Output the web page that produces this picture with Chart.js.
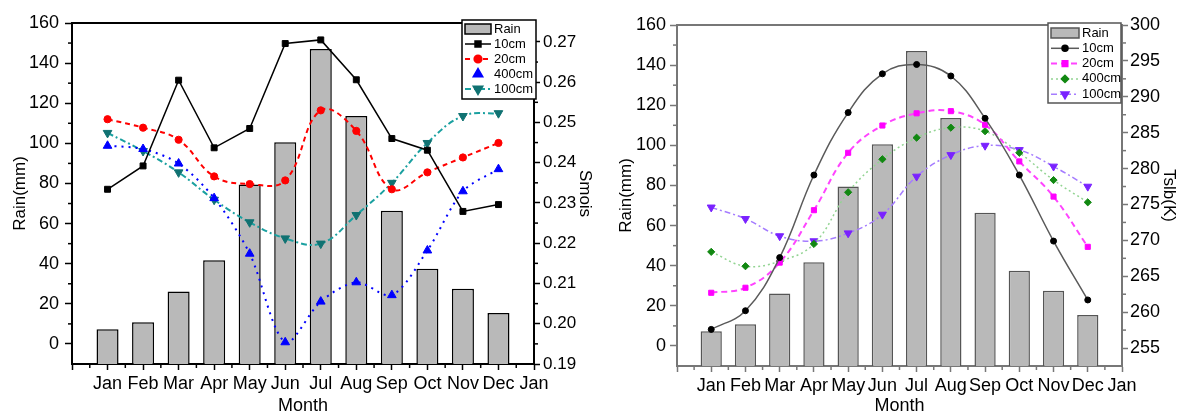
<!DOCTYPE html>
<html>
<head>
<meta charset="utf-8">
<script src="https://cdn.jsdelivr.net/npm/chart.js@4.4.1/dist/chart.umd.min.js"></script>
<style>
body { margin: 0; background: #fff; width: 1178px; height: 417px; overflow: hidden; position: relative; }
canvas { position: absolute; top: 0; }
#left { left: 0; }
#right { left: 590px; }
</style>
</head>
<body>
<canvas id="left" width="600" height="417"></canvas>
<canvas id="right" width="588" height="417"></canvas>
<script>
// tick labels on the month axis (0 .. 13)
var xTickLabels = ['', 'Jan', 'Feb', 'Mar', 'Apr', 'May', 'Jun', 'Jul', 'Aug', 'Sep', 'Oct', 'Nov', 'Dec', 'Jan'];
var monthPos = [1, 2, 3, 4, 5, 6, 7, 8, 9, 10, 11, 12];

var rain = [7.3, 10.8, 26.1, 41.7, 79.5, 100.5, 147.1, 113.6, 66.4, 37.5, 27.5, 15.4];

// soil moisture (left chart)
var smois10  = [0.2334, 0.2392, 0.2605, 0.2437, 0.2485, 0.2696, 0.2705, 0.2606, 0.2460, 0.2431, 0.2279, 0.2296];
var smois20  = [0.2508, 0.2487, 0.2457, 0.2366, 0.2347, 0.2356, 0.2530, 0.2479, 0.2334, 0.2376, 0.2413, 0.2449];
var smois400 = [0.2442, 0.2434, 0.2398, 0.2312, 0.2174, 0.1954, 0.2055, 0.2103, 0.2071, 0.2182, 0.2329, 0.2384];
var smois100 = [0.2474, 0.2429, 0.2376, 0.2308, 0.2252, 0.2212, 0.2199, 0.2270, 0.2350, 0.2449, 0.2516, 0.2523];

// soil temperature (right chart)
var tslb10  = [257.6, 260.2, 267.6, 279.1, 287.8, 293.2, 294.5, 292.9, 287.0, 279.1, 269.9, 261.7];
var tslb20  = [262.7, 263.4, 266.9, 274.2, 282.2, 286.0, 287.7, 288.0, 286.1, 281.0, 276.1, 269.1];
var tslb400 = [268.4, 266.4, 267.1, 269.5, 276.7, 281.3, 284.3, 285.7, 285.2, 282.2, 278.4, 275.3];
var tslb100 = [274.6, 273.0, 270.6, 269.9, 271.0, 273.6, 278.9, 281.9, 283.2, 282.6, 280.3, 277.5];

var FONT = "'Liberation Sans', Arial, sans-serif";
var RAIN_MIN = -10;
Chart.defaults.font.family = FONT;
Chart.defaults.color = '#000';

function pts(arr) {
    return arr.map(function (v, i) { return { x: monthPos[i], y: v }; });
}

// top border line + minor ticks between the major ones
var frame = {
    id: 'frame',
    afterDraw: function (chart, args, o) {
        var ctx = chart.ctx, a = chart.chartArea;
        ctx.save();
        ctx.strokeStyle = o.color;
        ctx.lineWidth = 2;
        ctx.beginPath(); ctx.moveTo(a.left, a.top); ctx.lineTo(a.right, a.top); ctx.stroke();
        ctx.lineWidth = 1.5;
        Object.values(chart.scales).forEach(function (s) {
            var t = s.ticks;
            for (var i = 0; i < t.length - 1; i++) {
                var p = s.getPixelForValue((t[i].value + t[i + 1].value) / 2);
                ctx.beginPath();
                if (s.axis === 'x') { ctx.moveTo(p, a.bottom); ctx.lineTo(p, a.bottom + o.len); }
                else if (s.position === 'left') { ctx.moveTo(a.left, p); ctx.lineTo(a.left - o.len, p); }
                else { ctx.moveTo(a.right, p); ctx.lineTo(a.right + o.len, p); }
                ctx.stroke();
            }
        });
        ctx.restore();
    }
};

// boxed legend inside the top right corner
var boxLegend = {
    id: 'boxLegend',
    afterDraw: function (chart, args, o) {
        var ctx = chart.ctx, a = chart.chartArea;
        var x = a.right + o.dx - o.w, y = a.top + o.dy;
        ctx.save();
        ctx.fillStyle = '#fff';
        ctx.fillRect(x, y, o.w, o.h);
        ctx.lineWidth = 1.5;
        ctx.strokeStyle = o.color;
        ctx.strokeRect(x, y, o.w, o.h);
        ctx.font = o.fontSize + 'px ' + FONT;
        ctx.textBaseline = 'middle';
        chart.data.datasets.forEach(function (ds, i) {
            var cy = y + o.first + i * o.row, sx = x + o.sx, ex = sx + o.sym;
            if (ds.type === 'bar') {
                ctx.fillStyle = ds.backgroundColor;
                ctx.fillRect(sx, cy - 5, o.sym, 10);
                ctx.strokeStyle = ds.borderColor;
                ctx.lineWidth = ds.borderWidth;
                ctx.strokeRect(sx, cy - 5, o.sym, 10);
            } else {
                if (ds.legendLine !== false) {
                    ctx.strokeStyle = ds.borderColor;
                    ctx.lineWidth = ds.borderWidth;
                    ctx.setLineDash(ds.borderDash || []);
                    ctx.beginPath(); ctx.moveTo(sx, cy); ctx.lineTo(ex, cy); ctx.stroke();
                    ctx.setLineDash([]);
                }
                ctx.fillStyle = ds.pointBackgroundColor;
                ctx.strokeStyle = ds.pointBorderColor;
                Chart.helpers.drawPoint(ctx, {
                    pointStyle: ds.pointStyle, rotation: ds.pointRotation || 0,
                    radius: ds.pointRadius, borderWidth: 1
                }, (sx + ex) / 2, cy);
            }
            ctx.fillStyle = '#000';
            ctx.fillText(ds.label, ex + o.gap, cy);
        });
        ctx.restore();
    }
};

function xAxis(color, height) {
    return {
        type: 'linear', min: 0, max: 13, offset: false,
        grid: { offset: false, drawOnChartArea: false, tickLength: 6, tickWidth: 1.5, tickColor: color },
        border: { color: color, width: 2 },
        ticks: {
            stepSize: 1, autoSkip: false, maxRotation: 0, padding: 3, font: { size: 18 },
            callback: function (v) { return xTickLabels[v]; }
        },
        title: { display: true, text: 'Month', font: { size: 18 }, padding: 0 },
        afterFit: function (s) { s.height = height; }
    };
}

function rainAxis(color, width, tickPad, titlePad) {
    return {
        type: 'linear', position: 'left', min: RAIN_MIN, max: 160,
        grid: { drawOnChartArea: false, tickLength: 7, tickWidth: 1.5, tickColor: color },
        border: { color: color, width: 2 },
        ticks: { stepSize: 20, includeBounds: false, padding: tickPad, font: { size: 18 } },
        title: { display: true, text: 'Rain(mm)', font: { size: 17 }, padding: { top: titlePad, bottom: 0 } },
        afterFit: function (s) { s.width = width; }
    };
}

function rainSet(border) {
    return {
        type: 'bar', label: 'Rain', data: pts(rain), yAxisID: 'y', order: 1,
        base: RAIN_MIN, backgroundColor: '#b9b9b9', borderColor: border, borderWidth: 1.5,
        barPercentage: 0.62, categoryPercentage: 1
    };
}

function lineSet(label, data, axisId, s) {
    return {
        type: 'line', label: label, data: pts(data), yAxisID: axisId, order: 0,
        borderColor: s.line, borderWidth: s.width || 1.5, borderDash: s.dash || [],
        tension: s.tension || 0, fill: false,
        pointStyle: s.style, pointRadius: s.radius, pointRotation: s.rotation || 0,
        pointBackgroundColor: s.point, pointBorderColor: s.point, pointBorderWidth: 1,
        legendLine: s.legendLine
    };
}

new Chart(document.getElementById('left'), {
    type: 'bar',
    data: {
        datasets: [
            rainSet('#000'),
            lineSet('10cm', smois10, 'y2', { line: '#000', point: '#000', style: 'rect', radius: 4.2 }),
            lineSet('20cm', smois20, 'y2', { line: '#ff0000', point: '#ff0000', style: 'circle', radius: 3.6, width: 2, dash: [5, 4], tension: 0.4 }),
            lineSet('400cm', smois400, 'y2', { line: '#0000ff', point: '#0000ff', style: 'triangle', radius: 5, width: 2, dash: [2, 5], tension: 0.3, legendLine: false }),
            lineSet('100cm', smois100, 'y2', { line: '#1aa0a0', point: '#107272', style: 'triangle', rotation: 180, radius: 5, width: 2, dash: [6, 3, 2, 3], tension: 0.4 })
        ]
    },
    options: {
        responsive: false,
        animation: false,
        layout: { padding: { top: 23, left: 0, right: 0, bottom: 0 } },
        scales: {
            x: xAxis('#000', 53),
            y: rainAxis('#000', 72, 6, 10),
            y2: {
                type: 'linear', position: 'right', min: 0.19, max: 0.2747,
                grid: { drawOnChartArea: false, tickLength: 6, tickWidth: 1.5, tickColor: '#000' },
                border: { color: '#000', width: 2 },
                ticks: { stepSize: 0.01, includeBounds: false, padding: 3, font: { size: 17 },
                    callback: function (v) { return v.toFixed(2); } },
                title: { display: true, text: 'Smois', font: { size: 17 }, padding: { top: 5, bottom: 0 } },
                afterFit: function (s) { s.width = 66; }
            }
        },
        plugins: {
            legend: { display: false },
            tooltip: { enabled: false },
            frame: { color: '#000', len: 4 },
            boxLegend: { dx: 2, dy: -3, w: 74, h: 79, first: 9, row: 15, sx: 3, sym: 26, gap: 3, fontSize: 13, color: '#000' }
        }
    },
    plugins: [frame, boxLegend]
});

new Chart(document.getElementById('right'), {
    type: 'bar',
    data: {
        datasets: [
            rainSet('#555'),
            lineSet('10cm', tslb10, 'y2', { line: '#5a5a5a', point: '#000', style: 'circle', radius: 3, tension: 0.4 }),
            lineSet('20cm', tslb20, 'y2', { line: '#ff44ff', point: '#ff00ff', style: 'rect', radius: 3.6, width: 2, dash: [6, 4], tension: 0.4 }),
            lineSet('400cm', tslb400, 'y2', { line: '#92d492', point: '#118811', style: 'rectRot', radius: 3.6, width: 1.5, dash: [2, 3], tension: 0.4 }),
            lineSet('100cm', tslb100, 'y2', { line: '#a57cff', point: '#7a22ff', style: 'triangle', rotation: 180, radius: 4.6, width: 1.5, dash: [6, 3, 2, 3], tension: 0.4 })
        ]
    },
    options: {
        responsive: false,
        animation: false,
        layout: { padding: { top: 25, left: 0, right: 0, bottom: 0 } },
        scales: {
            x: xAxis('#777', 51),
            y: rainAxis('#777', 87, 4, 26),
            y2: {
                type: 'linear', position: 'right', min: 252.5, max: 300,
                grid: { drawOnChartArea: false, tickLength: 6, tickWidth: 1.5, tickColor: '#777' },
                border: { color: '#777', width: 2 },
                ticks: { stepSize: 5, includeBounds: false, padding: 2, font: { size: 18 } },
                title: { display: true, text: 'Tslb(K)', font: { size: 17, lineHeight: 1 }, padding: { top: 1, bottom: 0 } },
                afterFit: function (s) { s.width = 56; }
            }
        },
        plugins: {
            legend: { display: false },
            tooltip: { enabled: false },
            frame: { color: '#777', len: 4 },
            boxLegend: { dx: -1, dy: -2, w: 73, h: 80, first: 10, row: 15.3, sx: 3, sym: 28, gap: 3, fontSize: 13, color: '#555' }
        }
    },
    plugins: [frame, boxLegend]
});
</script>
</body>
</html>
